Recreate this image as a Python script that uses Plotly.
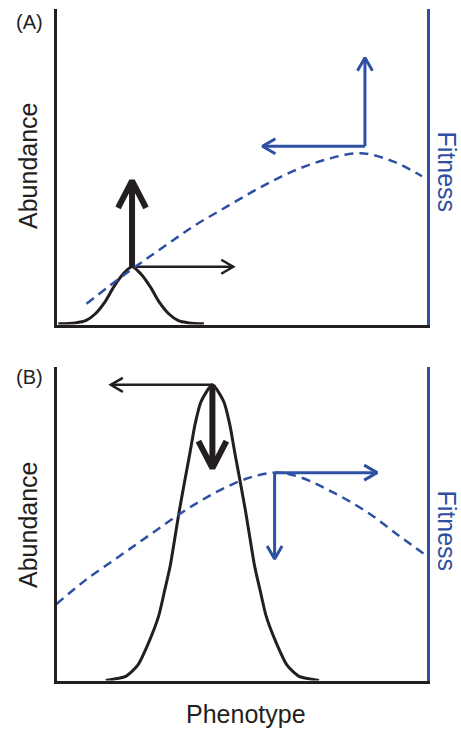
import math

import plotly.graph_objects as go

# Phenotype axis runs 0-100, abundance and fitness both 0-100 on each panel.

# (A) small population on the rising side of the fitness curve
phenotype_a = [0.5, 5.0, 8.0, 10.5, 13.0, 15.5, 18.0, 20.4, 22.8, 25.3, 27.8, 30.3, 32.8, 35.8, 39.8]
abundance_a = [0.2, 0.5, 1.3, 3.4, 7.0, 12.0, 16.0, 18.3, 16.0, 12.0, 7.0, 3.4, 1.3, 0.5, 0.2]
fitness_x_a = [8.1, 19.4, 28.2, 37.1, 46.2, 55.1, 63.9, 73.1, 82.0, 90.9, 98.7]
fitness_a = [6.6, 16.7, 24.0, 31.2, 37.5, 43.5, 48.6, 52.4, 54.3, 51.7, 47.0]

# (B) large population past the fitness optimum
phenotype_b = [13.3, 18.7, 21.9, 25.0, 27.6, 29.3, 30.7, 33.1, 34.6, 36.1, 37.4, 39.0, 42.1,
               45.2, 46.8, 48.1, 49.6, 51.1, 53.5, 54.9, 56.6, 59.2, 62.3, 65.5, 70.9]
abundance_b = [0.0, 1.3, 4.8, 12.4, 20.6, 29.2, 36.5, 53.7, 63.5, 73.0, 81.6, 88.9, 94.3,
               88.9, 81.6, 73.0, 63.5, 53.7, 36.5, 29.2, 20.6, 12.4, 4.8, 1.3, 0.0]
fitness_x_b = [0, 7.5, 16.7, 25.5, 34.4, 43.5, 52.4, 59.7, 65.9, 74.7, 83.9, 92.7, 100]
fitness_b = [24.4, 31.7, 39.4, 46.7, 54.0, 60.3, 64.8, 66.3, 64.8, 60.0, 53.7, 46.0, 39.7]

# arrows as (x_tail, y_tail, x_tip, y_tip)
growth_arrow_a = (20.4, 18.3, 20.4, 47.6)
shift_arrow_a = (20.4, 18.3, 48.4, 18.3)
fitness_arrows_a = [(83.3, 56.5, 83.3, 85.5), (83.3, 56.5, 54.8, 56.5)]

growth_arrow_b = (42.1, 94.3, 42.1, 65.7)
shift_arrow_b = (42.1, 94.3, 14.0, 94.3)
fitness_arrows_b = [(58.9, 66.3, 87.4, 66.3), (58.9, 66.3, 58.9, 37.8)]

W, H = 461, 730
BLACK = "#231f20"
BLUE = "#2e50a2"
FONT = "Liberation Sans, Arial, sans-serif"

X_DOM = [56.5 / W, 426.8 / W]
Y_DOM_A = [1 - 324.5 / H, 1 - 9 / H]
Y_DOM_B = [1 - 680.5 / H, 1 - 367 / H]


def px_scale(ydom):
    """Pixels per data unit on (x, y) for a panel with 0-100 ranges."""
    return (X_DOM[1] - X_DOM[0]) * W / 100, (ydom[1] - ydom[0]) * H / 100


def arrow_trace(arrow, color, width, head_len, head_half, xa, ya, scale):
    x0, y0, x1, y1 = arrow
    sx, sy = scale
    dx, dy = (x1 - x0) * sx, (y1 - y0) * sy
    length = math.hypot(dx, dy)
    ux, uy = dx / length, dy / length
    # pull the chevron apex back so the mitred corner sits on the tip
    back = (width / 2) * math.hypot(head_len, head_half) / head_half
    apx, apy = x1 - ux * back / sx, y1 - uy * back / sy
    bx = apx - ux * head_len / sx
    by = apy - uy * head_len / sy
    px_, py_ = -uy * head_half, ux * head_half
    xs = [x0, apx, None, bx + px_ / sx, apx, bx - px_ / sx]
    ys = [y0, apy, None, by + py_ / sy, apy, by - py_ / sy]
    return go.Scatter(x=xs, y=ys, mode="lines", xaxis=xa, yaxis=ya,
                      line=dict(color=color, width=width),
                      hoverinfo="skip", showlegend=False)


fig = go.Figure()

panels = [
    ("x", "y", "y2", Y_DOM_A, phenotype_a, abundance_a, fitness_x_a, fitness_a,
     growth_arrow_a, shift_arrow_a, fitness_arrows_a, 0.8),
    ("x2", "y3", "y4", Y_DOM_B, phenotype_b, abundance_b, fitness_x_b, fitness_b,
     growth_arrow_b, shift_arrow_b, fitness_arrows_b, 0.6),
]

for xa, ya, yf, ydom, px, ab, fx, fv, grow, shift, farrows, smooth in panels:
    scale = px_scale(ydom)
    fig.add_trace(go.Scatter(
        x=fx, y=fv, mode="lines", xaxis=xa, yaxis=yf,
        line=dict(color=BLUE, width=2.5, dash="9px,6px", shape="spline"),
        hoverinfo="skip", showlegend=False))
    fig.add_trace(go.Scatter(
        x=px, y=ab, mode="lines", xaxis=xa, yaxis=ya,
        line=dict(color=BLACK, width=3, shape="spline", smoothing=smooth),
        hoverinfo="skip", showlegend=False))
    fig.add_trace(arrow_trace(shift, BLACK, 2.5, 12, 7, xa, ya, scale))
    fig.add_trace(arrow_trace(grow, BLACK, 6, 27, 14, xa, ya, scale))
    for arr in farrows:
        fig.add_trace(arrow_trace(arr, BLUE, 3, 13, 7.5, xa, ya, scale))

hidden = dict(showgrid=False, zeroline=False, showticklabels=False, ticks="",
              range=[0, 100], fixedrange=True)

fig.update_layout(
    width=W, height=H,
    margin=dict(l=0, r=0, t=0, b=0),
    paper_bgcolor="white", plot_bgcolor="white",
    showlegend=False,
    xaxis=dict(domain=X_DOM, anchor="y", showline=True, linecolor=BLACK, linewidth=3, **hidden),
    yaxis=dict(domain=Y_DOM_A, anchor="x", showline=True, linecolor=BLACK, linewidth=3, **hidden),
    yaxis2=dict(overlaying="y", anchor="x", side="right", showline=True,
                linecolor=BLUE, linewidth=2.5, **hidden),
    xaxis2=dict(domain=X_DOM, anchor="y3", showline=True, linecolor=BLACK, linewidth=3, **hidden),
    yaxis3=dict(domain=Y_DOM_B, anchor="x2", showline=True, linecolor=BLACK, linewidth=3, **hidden),
    yaxis4=dict(overlaying="y3", anchor="x2", side="right", showline=True,
                linecolor=BLUE, linewidth=2.5, **hidden),
)


def label(text, x_px, y_px, size, color=BLACK, angle=0):
    fig.add_annotation(
        text=text, x=x_px / W, y=1 - y_px / H, xref="paper", yref="paper",
        xanchor="center", yanchor="middle", showarrow=False, textangle=angle,
        borderpad=0, font=dict(family=FONT, size=size, color=color))


label("(A)", 29, 22, 20)
label("(B)", 29, 377, 20)
label("Abundance", 28, 166, 25, angle=-90)
label("Abundance", 28, 525, 25, angle=-90)
# Fitness sits right against the window edge; keep its text box inside
label("Fitness", 446.5, 172, 25, color=BLUE, angle=90)
label("Fitness", 446.5, 531, 25, color=BLUE, angle=90)
label("Phenotype", 246, 714, 25)

# drop the default 8px page margin so the figure sits at the window's corner
fig.write_html("out.html", config={"displayModeBar": False},
               post_script="document.body.style.margin = '0';")
